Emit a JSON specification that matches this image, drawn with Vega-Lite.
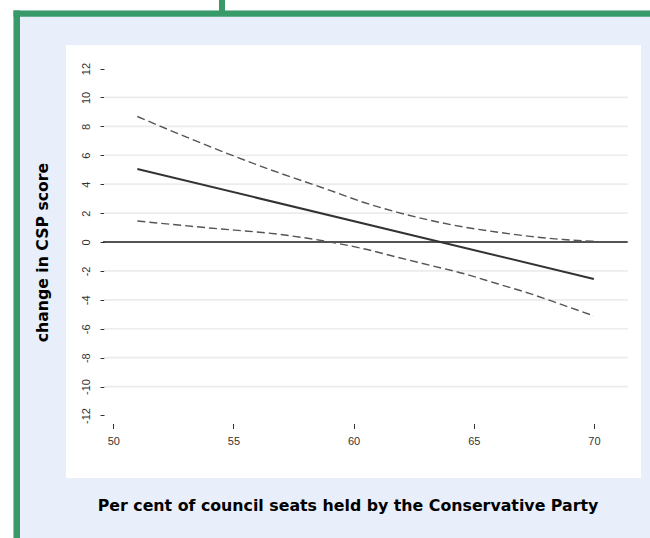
{
  "$schema": "https://vega.github.io/schema/vega-lite/v6.json",
  "width": 575,
  "height": 433,
  "autosize": {"type": "none"},
  "padding": {"left": 66, "top": 45, "right": 9, "bottom": 60},
  "background": "#e8eefa",
  "config": {
    "view": {"fill": "white", "stroke": null},
    "axisX": {
      "offset": -54.5, "tickSize": 5, "domain": false, "grid": false,
      "labelFont": "Liberation Sans", "labelFontSize": 11, "labelColor": "#333333",
      "tickColor": "#333333", "tickWidth": 1, "labelPadding": 6.5, "labelFlush": false,
      "titleFont": "DejaVu Sans", "titleFontSize": 15.8, "titleFontWeight": "bold", "titleColor": "black",
      "titleX": 281.5, "titleY": 81.5, "titleBaseline": "middle", "titleAlign": "center"
    },
    "axisY": {
      "offset": -38, "tickSize": 4, "domain": false, "grid": false,
      "labelFont": "Liberation Sans", "labelFontSize": 11, "labelColor": "#333333",
      "tickColor": "#333333", "tickWidth": 1, "labelPadding": 8.5, "labelFlush": false, "labelOverlap": false,
      "labelAngle": 270, "labelAlign": "center", "labelBaseline": "bottom",
      "titleFont": "DejaVu Sans", "titleFontSize": 15.7, "titleFontWeight": "bold", "titleColor": "black",
      "titleX": -61.5, "titleY": 207, "titleBaseline": "middle", "titleAlign": "center", "titleAngle": 270
    }
  },
  "datasets": {
    "fit": [
      {"x": 51, "y": 5.05, "series": "estimate"},
      {"x": 70, "y": -2.56, "series": "estimate"},
      {"x": 51, "y": 8.68, "series": "upper"},
      {"x": 54, "y": 6.61, "series": "upper"},
      {"x": 56.5, "y": 5.02, "series": "upper"},
      {"x": 59.02, "y": 3.57, "series": "upper"},
      {"x": 60.4, "y": 2.75, "series": "upper"},
      {"x": 61.79, "y": 2.07, "series": "upper"},
      {"x": 63.18, "y": 1.5, "series": "upper"},
      {"x": 64.57, "y": 1.04, "series": "upper"},
      {"x": 65.95, "y": 0.69, "series": "upper"},
      {"x": 67.34, "y": 0.39, "series": "upper"},
      {"x": 68.73, "y": 0.17, "series": "upper"},
      {"x": 70, "y": 0.05, "series": "upper"},
      {"x": 51, "y": 1.45, "series": "lower"},
      {"x": 54, "y": 0.97, "series": "lower"},
      {"x": 56.9, "y": 0.53, "series": "lower"},
      {"x": 59.02, "y": 0.0, "series": "lower"},
      {"x": 60.4, "y": -0.46, "series": "lower"},
      {"x": 61.79, "y": -1.04, "series": "lower"},
      {"x": 63.18, "y": -1.61, "series": "lower"},
      {"x": 64.57, "y": -2.18, "series": "lower"},
      {"x": 65.95, "y": -2.87, "series": "lower"},
      {"x": 67.34, "y": -3.57, "series": "lower"},
      {"x": 68.73, "y": -4.37, "series": "lower"},
      {"x": 70, "y": -5.11, "series": "lower"}
    ],
    "grid": [
      {"g": -10}, {"g": -8}, {"g": -6}, {"g": -4}, {"g": -2},
      {"g": 2}, {"g": 4}, {"g": 6}, {"g": 8}, {"g": 10}
    ],
    "one": [{"k": 1}]
  },
  "layer": [
    {
      "data": {"name": "one"},
      "mark": {"type": "rect", "color": "white"},
      "encoding": {
        "x": {"datum": 45.0, "type": "quantitative", "axis": {"values": [50, 55, 60, 65, 70], "labelExpr": "'' + datum.value"}, "scale": {"domain": [48.0316, 71.96], "nice": false, "zero": false}},
        "x2": {"datum": 72.6},
        "y": {"datum": 17.2, "type": "quantitative", "axis": {"values": [-12, -10, -8, -6, -4, -2, 0, 2, 4, 6, 8, 10, 12], "labelOverlap": false, "labelExpr": "'' + datum.value"}, "scale": {"domain": [-16.3231, 13.6257], "nice": false, "zero": false}},
        "y2": {"datum": 16.012}
      }
    },
    {
      "data": {"name": "one"},
      "mark": {"type": "rect", "color": "white"},
      "encoding": {
        "x": {"datum": 45.0, "type": "quantitative", "axis": {"values": [50, 55, 60, 65, 70], "labelExpr": "'' + datum.value"}, "scale": {"domain": [48.0316, 71.96], "nice": false, "zero": false}},
        "x2": {"datum": 45.847},
        "y": {"datum": 17.2, "type": "quantitative", "axis": {"values": [-12, -10, -8, -6, -4, -2, 0, 2, 4, 6, 8, 10, 12], "labelOverlap": false, "labelExpr": "'' + datum.value"}, "scale": {"domain": [-16.3231, 13.6257], "nice": false, "zero": false}},
        "y2": {"datum": -21.0}
      }
    },
    {
      "data": {"name": "one"},
      "mark": {"type": "rule", "color": "#389a68", "strokeWidth": 6.3},
      "encoding": {
        "x": {"datum": 45.847, "type": "quantitative", "axis": {"values": [50, 55, 60, 65, 70], "labelExpr": "'' + datum.value"}, "scale": {"domain": [48.0316, 71.96], "nice": false, "zero": false}},
        "x2": {"datum": 72.335},
        "y": {"datum": 15.797, "type": "quantitative", "axis": {"values": [-12, -10, -8, -6, -4, -2, 0, 2, 4, 6, 8, 10, 12], "labelOverlap": false, "labelExpr": "'' + datum.value"}, "scale": {"domain": [-16.3231, 13.6257], "nice": false, "zero": false}}
      }
    },
    {
      "data": {"name": "one"},
      "mark": {"type": "rule", "color": "#389a68", "strokeWidth": 6.5},
      "encoding": {
        "x": {"datum": 45.982, "type": "quantitative", "axis": {"values": [50, 55, 60, 65, 70], "labelExpr": "'' + datum.value"}, "scale": {"domain": [48.0316, 71.96], "nice": false, "zero": false}},
        "y": {"datum": 16.012, "type": "quantitative", "axis": {"values": [-12, -10, -8, -6, -4, -2, 0, 2, 4, 6, 8, 10, 12], "labelOverlap": false, "labelExpr": "'' + datum.value"}, "scale": {"domain": [-16.3231, 13.6257], "nice": false, "zero": false}},
        "y2": {"datum": -20.473}
      }
    },
    {
      "data": {"name": "one"},
      "mark": {"type": "rule", "color": "#389a68", "strokeWidth": 6},
      "encoding": {
        "x": {"datum": 54.5234, "type": "quantitative", "axis": {"values": [50, 55, 60, 65, 70], "labelExpr": "'' + datum.value"}, "scale": {"domain": [48.0316, 71.96], "nice": false, "zero": false}},
        "y": {"datum": 16.8, "type": "quantitative", "axis": {"values": [-12, -10, -8, -6, -4, -2, 0, 2, 4, 6, 8, 10, 12], "labelOverlap": false, "labelExpr": "'' + datum.value"}, "scale": {"domain": [-16.3231, 13.6257], "nice": false, "zero": false}},
        "y2": {"datum": 15.797}
      }
    },
    {
      "data": {"name": "grid"},
      "mark": {"type": "rule", "color": "#ececec", "strokeWidth": 1.6},
      "encoding": {
        "x": {"datum": 49.613, "type": "quantitative", "axis": {"values": [50, 55, 60, 65, 70], "labelExpr": "'' + datum.value"}, "scale": {"domain": [48.0316, 71.96], "nice": false, "zero": false}},
        "x2": {"datum": 71.406},
        "y": {"field": "g", "type": "quantitative", "title": "change in CSP score", "axis": {"values": [-12, -10, -8, -6, -4, -2, 0, 2, 4, 6, 8, 10, 12], "labelOverlap": false, "labelExpr": "'' + datum.value"}, "scale": {"domain": [-16.3231, 13.6257], "nice": false, "zero": false}}
      }
    },
    {
      "data": {"name": "one"},
      "mark": {"type": "rule", "color": "#1a1a1a", "strokeWidth": 1.4},
      "encoding": {
        "x": {"datum": 49.57, "type": "quantitative", "axis": {"values": [50, 55, 60, 65, 70], "labelExpr": "'' + datum.value"}, "scale": {"domain": [48.0316, 71.96], "nice": false, "zero": false}},
        "x2": {"datum": 71.406},
        "y": {"datum": 0, "type": "quantitative", "axis": {"values": [-12, -10, -8, -6, -4, -2, 0, 2, 4, 6, 8, 10, 12], "labelOverlap": false, "labelExpr": "'' + datum.value"}, "scale": {"domain": [-16.3231, 13.6257], "nice": false, "zero": false}}
      }
    },
    {
      "data": {"name": "fit"},
      "transform": [{"filter": "datum.series !== 'estimate'"}],
      "mark": {"type": "line", "color": "#555555", "strokeWidth": 1.4, "strokeDash": [8, 4], "interpolate": "monotone"},
      "encoding": {
        "x": {"field": "x", "type": "quantitative", "title": "Per cent of council seats held by the Conservative Party", "axis": {"values": [50, 55, 60, 65, 70], "labelExpr": "'' + datum.value"}, "scale": {"domain": [48.0316, 71.96], "nice": false, "zero": false}},
        "y": {"field": "y", "type": "quantitative", "title": "change in CSP score", "axis": {"values": [-12, -10, -8, -6, -4, -2, 0, 2, 4, 6, 8, 10, 12], "labelOverlap": false, "labelExpr": "'' + datum.value"}, "scale": {"domain": [-16.3231, 13.6257], "nice": false, "zero": false}},
        "detail": {"field": "series", "type": "nominal"}
      }
    },
    {
      "data": {"name": "fit"},
      "transform": [{"filter": "datum.series === 'estimate'"}],
      "mark": {"type": "line", "color": "#333333", "strokeWidth": 2},
      "encoding": {
        "x": {"field": "x", "type": "quantitative", "title": "Per cent of council seats held by the Conservative Party",
              "axis": {"values": [50, 55, 60, 65, 70], "labelExpr": "'' + datum.value"},
              "scale": {"domain": [48.0316, 71.96], "nice": false, "zero": false}},
        "y": {"field": "y", "type": "quantitative", "title": "change in CSP score",
              "axis": {"values": [-12, -10, -8, -6, -4, -2, 0, 2, 4, 6, 8, 10, 12], "labelOverlap": false, "labelExpr": "'' + datum.value"},
              "scale": {"domain": [-16.3231, 13.6257], "nice": false, "zero": false}}
      }
    }
  ]
}
